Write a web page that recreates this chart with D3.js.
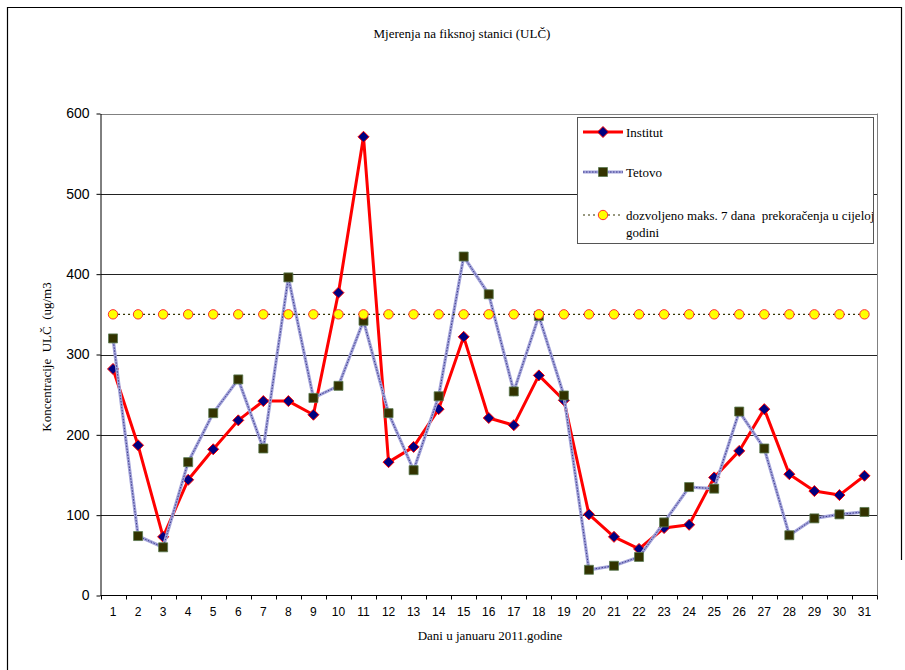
<!DOCTYPE html>
<html>
<head>
<meta charset="utf-8">
<script src="https://cdn.jsdelivr.net/npm/d3@7"></script>
<style>
  html, body { margin: 0; padding: 0; background: #fff; }
  svg { display: block; }
</style>
</head>
<body>
<svg id="chart" width="905" height="670"></svg>
<script>
const days = d3.range(1, 32);
const institut = [282,187,73,144,182,218,242,242,225,377,571,166,185,232,322,221,212,274,243,101,73,58,84,88,147,180,232,151,130,125,149];
const tetovo   = [320,74,60,166,227,269,183,396,246,261,342,227,156,248,422,375,254,348,249,32,37,48,91,135,133,229,183,75,96,101,104];
const limit    = days.map(() => 350);
const yTicks = [0,100,200,300,400,500,600];

const title = "Mjerenja na fiksnoj stanici (ULČ)";
const xTitle = "Dani u januaru 2011.godine";
const yTitle = "Koncentracije  ULČ  (ug/m3";
const legendLabels = ["Institut", "Tetovo", "dozvoljeno maks. 7 dana  prekoračenja u cijeloj", "godini"];

const svg = d3.select("#chart");
const L = 100.5, R = 877, T = 113.5, B = 595.5;

// outer frame
svg.append("path").attr("d", "M7.5,670 V7.5 H901.5 V560")
  .attr("fill", "none").attr("stroke", "#000").attr("stroke-width", 1.2);

const x = d3.scaleBand().domain(days).range([L, R]).padding(0);
const cx = d => x(d) + x.bandwidth() / 2;
const y = d3.scaleLinear().domain([0, 600]).range([B, T]);

// gridlines
svg.append("g").selectAll("line").data(yTicks.filter(v => v > 0)).join("line")
  .attr("x1", L).attr("x2", R)
  .attr("y1", d => Math.round(y(d)) + 0.5).attr("y2", d => Math.round(y(d)) + 0.5)
  .attr("stroke", d => d === 600 ? "#808080" : "#222").attr("stroke-width", 1);
// right border of plot
svg.append("line").attr("x1", R + 0.5).attr("x2", R + 0.5).attr("y1", T).attr("y2", B)
  .attr("stroke", "#808080").attr("stroke-width", 1);

// y axis
const yAxis = svg.append("g").attr("transform", `translate(${L},0)`)
  .call(d3.axisLeft(y).tickValues(yTicks).tickSize(4).tickPadding(7).tickSizeOuter(0));
yAxis.select(".domain").attr("stroke", "#000");
yAxis.selectAll("line").attr("stroke", "#000");
yAxis.selectAll("text").attr("font-family", "Liberation Sans, Arial, sans-serif")
  .attr("font-size", "14px").attr("fill", "#000");

// x axis line
svg.append("line").attr("x1", L).attr("x2", R + 0.5).attr("y1", B).attr("y2", B)
  .attr("stroke", "#000").attr("stroke-width", 1);
// x ticks at band boundaries
const bounds = days.map(d => x(d)).concat([x(31) + x.bandwidth()]);
svg.append("g").selectAll("line").data(bounds).join("line")
  .attr("x1", d => Math.round(d) + 0.5).attr("x2", d => Math.round(d) + 0.5)
  .attr("y1", B).attr("y2", B + 4).attr("stroke", "#000");
// x labels via axis
const xAxis = svg.append("g").attr("transform", `translate(0,${B})`)
  .call(d3.axisBottom(x).tickSize(0).tickPadding(12));
xAxis.select(".domain").remove();
xAxis.selectAll("text").attr("font-family", "Liberation Sans, Arial, sans-serif")
  .attr("font-size", "12px").attr("fill", "#000");

// titles
const serif = "Liberation Serif, Times New Roman, serif";
svg.append("text").attr("x", 462).attr("y", 38).attr("text-anchor", "middle")
  .attr("font-family", serif).attr("font-size", "13px").text(title);
svg.append("text").attr("x", 490).attr("y", 640).attr("text-anchor", "middle")
  .attr("font-family", serif).attr("font-size", "13px").text(xTitle);
svg.append("text").attr("transform", "translate(51,357) rotate(-90)").attr("text-anchor", "middle")
  .attr("font-family", serif).attr("font-size", "13px").style("white-space", "pre").text(yTitle);

// series drawing helpers
const diamond = (s) => `M0,${-s}L${s},0L0,${s}L${-s},0Z`;
const square = (s) => `M${-s},${-s}H${s}V${s}H${-s}Z`;

function drawInstitut(g, pts) {
  g.append("path").attr("d", d3.line()(pts)).attr("fill", "none")
    .attr("stroke", "#ff0000").attr("stroke-width", 3).attr("stroke-linejoin", "round");
}
function drawTetovo(g, pts) {
  g.append("path").attr("d", d3.line()(pts)).attr("fill", "none")
    .attr("stroke", "#a3a3da").attr("stroke-width", 3.2);
  g.append("path").attr("d", d3.line()(pts)).attr("fill", "none")
    .attr("stroke", "#3b3b8c").attr("stroke-width", 1).attr("stroke-dasharray", "1.5,1.5");
}
function drawLimit(g, pts) {
  g.append("path").attr("d", d3.line()(pts)).attr("fill", "none")
    .attr("stroke", "#333300").attr("stroke-width", 1.2).attr("stroke-dasharray", "2,3");
}
function diamondAt(g, px, py) {
  g.append("path").attr("d", diamond(5.5)).attr("transform", `translate(${px},${py})`)
    .attr("fill", "#000080").attr("stroke", "#ff0000").attr("stroke-width", 1);
}
function squareAt(g, px, py) {
  g.append("path").attr("d", square(4.5)).attr("transform", `translate(${px},${py})`)
    .attr("fill", "#333300").attr("stroke", "#5a7a50").attr("stroke-width", 0.8);
}
function circleAt(g, px, py) {
  g.append("circle").attr("cx", px).attr("cy", py).attr("r", 4.7)
    .attr("fill", "#ffff00").attr("stroke", "#ff3030").attr("stroke-width", 1);
}

const gI = svg.append("g");
drawInstitut(gI, institut.map((v, i) => [cx(days[i]), y(v)]));
institut.forEach((v, i) => diamondAt(gI, cx(days[i]), y(v)));

const gT = svg.append("g");
drawTetovo(gT, tetovo.map((v, i) => [cx(days[i]), y(v)]));
tetovo.forEach((v, i) => squareAt(gT, cx(days[i]), y(v)));

const gL = svg.append("g");
drawLimit(gL, limit.map((v, i) => [cx(days[i]), y(v)]));
limit.forEach((v, i) => circleAt(gL, cx(days[i]), y(v)));

// legend
const lg = svg.append("g");
const lx = 577.5, ly = 117.5, lw = 296, lh = 126;
lg.append("rect").attr("x", lx).attr("y", ly).attr("width", lw).attr("height", lh)
  .attr("fill", "#fff").attr("stroke", "#555").attr("stroke-width", 1);
svg.append("clipPath").attr("id", "lclip").append("rect")
  .attr("x", lx).attr("y", ly).attr("width", lw - 0.5).attr("height", lh);
const sx1 = 583, sx2 = 623, sm = 603;
const rows = [132, 172, 215];
drawInstitut(lg, [[sx1, rows[0]], [sx2, rows[0]]]); diamondAt(lg, sm, rows[0]);
drawTetovo(lg, [[sx1, rows[1]], [sx2, rows[1]]]); squareAt(lg, sm, rows[1]);
drawLimit(lg, [[sx1, rows[2]], [sx2, rows[2]]]); circleAt(lg, sm, rows[2]);
const lt = lg.append("g").attr("clip-path", "url(#lclip)");
[[legendLabels[0], rows[0] + 5], [legendLabels[1], rows[1] + 5], [legendLabels[2], rows[2] + 5], [legendLabels[3], rows[2] + 22]]
  .forEach(([t, yy]) => lt.append("text").attr("x", 626).attr("y", yy)
    .attr("font-family", serif).attr("font-size", "13px").style("white-space", "pre").text(t));
</script>
</body>
</html>
